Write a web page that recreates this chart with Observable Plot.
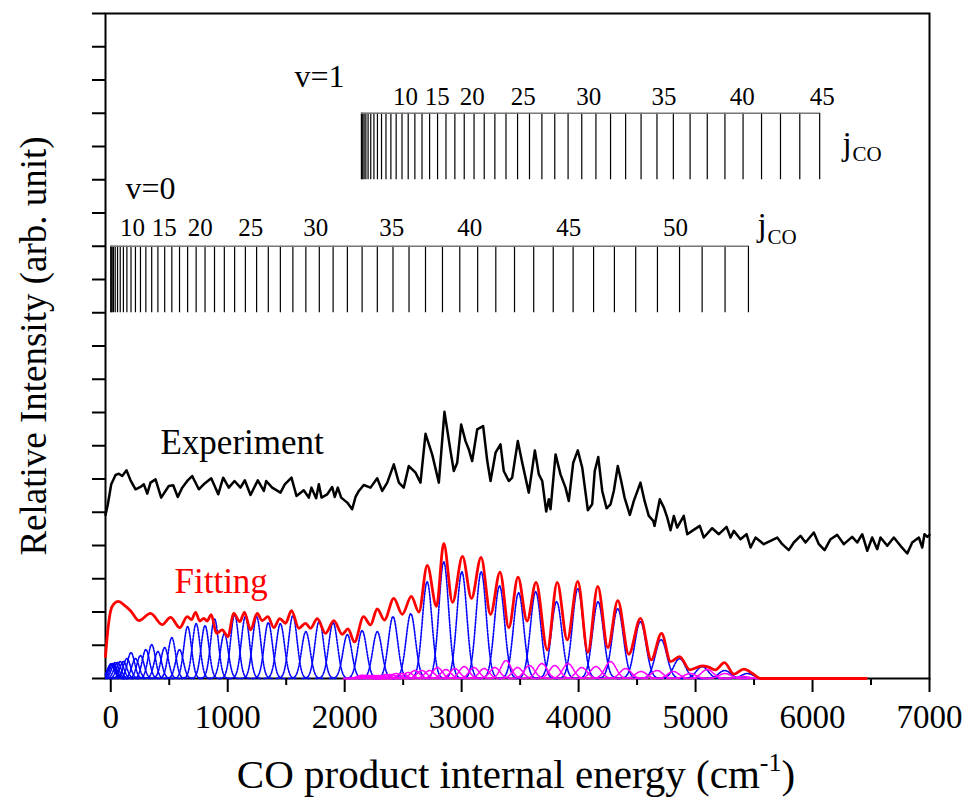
<!DOCTYPE html>
<html><head><meta charset="utf-8">
<script src="https://cdn.jsdelivr.net/npm/d3@7"></script>
<script src="https://cdn.jsdelivr.net/npm/@observablehq/plot@0.6"></script>
<style>
body{margin:0;background:#fff;}
</style></head><body>
<script>
// ---------- data ----------
// x: CO internal energy (cm-1); y: relative intensity (arb. unit, 0..200)
const xTicks = [0,1000,2000,3000,4000,5000,6000,7000];
const xMinorTicks = [500,1500,2500,3500,4500,5500,6500];
const yTicks = [0,10,20,30,40,50,60,70,80,90,100,110,120,130,140,150,160,170,180,190,200];

// rotational level energies, v=0 (j=0..53) and v=1 (j=0..45)
const v0E = [0,4,12,23,38,58,81,108,138,173,211,254,300,350,403,461,522,588,657,730,806,887,971,1059,1151,1247,1347,1450,1557,1668,1783,1901,2023,2149,2279,2413,2550,2691,2836,2984,3137,3292,3452,3616,3783,3953,4128,4306,4488,4674,4863,5056,5252,5452];
const v1E = [2143,2147,2155,2166,2181,2200,2223,2250,2280,2315,2353,2395,2440,2490,2543,2600,2661,2726,2794,2866,2942,3022,3106,3193,3284,3379,3478,3580,3686,3796,3910,4027,4148,4273,4402,4534,4670,4810,4953,5100,5251,5406,5564,5726,5891,6061];

// fitted component peaks
const v0PeakE = [0,4,12,23,38,58,81,108,138,173,211,254,300,350,403,461,522,588,657,730,806,887,971,1059,1151,1247,1347,1450,1557,1668,1783,1901,2023,2149,2279,2413,2565,2705,2847,3002,3167,3324,3487,3633,3812,3993,4166,4335,4528,4705,4863,5057,5249,5443];
const v0Amp = [4.2,4.5,4.5,4.5,4.8,4.8,5.1,5.1,6.0,7.8,6.0,6.9,8.7,10.2,8.1,9.3,12.3,8.7,15.6,16.5,15.9,18.0,13.5,19.2,18.6,18.6,16.8,16.5,18.9,14.1,17.4,16.8,13.2,14.4,14.1,18.6,19.5,29.1,35.1,32.1,32.1,27.9,25.8,26.1,23.1,27.0,23.1,21.0,17.1,11.7,6.0,3.6,2.4,1.5];
const v1Amp = [0.9,0.9,0.9,0.9,0.9,0.9,0.9,0.9,0.9,0.9,1.2,1.2,1.5,1.5,1.8,2.4,2.4,2.4,3.3,2.7,3.0,3.6,3.3,3.0,3.3,5.4,3.3,3.9,4.5,3.9,4.5,3.3,3.6,5.1,3.0,2.1,2.4,2.1,1.5,2.7,1.5,0.6,0,0,0,0];

// total fitting curve
const fitE = [-45,-28,-2,23,66,117,169,240,340,440,511,590,654,690,725,761,795,823,859,904,953,1001,1052,1103,1143,1195,1252,1295,1343,1394,1445,1494,1545,1608,1665,1708,1765,1836,1907,1979,2028,2084,2161,2221,2278,2340,2420,2492,2570,2634,2706,2785,2847,2922,3007,3084,3166,3247,3328,3403,3482,3559,3636,3732,3817,3903,3993,4079,4164,4250,4335,4429,4529,4621,4709,4786,4863,4951,5057,5113,5170,5247,5327,5412,5484,5555,6459];
const fitI = [6.6,13.5,20.2,22.3,23.2,22.0,20.4,17.4,19.6,16.2,18.4,15.3,18.6,17.7,19.9,17.3,18.1,17.3,19.2,13.6,14.6,12.6,19.6,17.1,19.9,14.6,19.6,17.4,18.6,15.3,18.0,16.6,20.4,15.1,16.6,15.1,18.0,13.6,17.4,13.3,14.9,11.0,18.6,16.1,20.9,17.6,24.1,19.3,24.7,20.0,34.0,21.7,40.6,22.9,36.7,24.1,36.4,19.3,32.0,15.3,30.5,17.3,28.9,8.6,28.9,11.6,29.2,7.9,27.7,9.3,23.4,7.3,18.1,5.6,13.6,5.1,6.6,2.6,3.8,3.4,2.6,4.8,1.3,2.8,1.6,0,0];

// experiment
const expE = [-45,-25,4,41,69,98,135,169,212,254,283,312,340,383,431,496,534,573,611,654,696,753,795,859,919,961,1009,1058,1109,1146,1195,1257,1309,1329,1380,1451,1488,1545,1588,1650,1693,1716,1756,1779,1802,1851,1893,1915,1941,1970,2022,2064,2093,2121,2163,2221,2278,2321,2364,2420,2463,2505,2548,2606,2648,2691,2748,2805,2853,2905,2933,2962,2996,3033,3061,3090,3133,3184,3219,3247,3290,3332,3360,3403,3432,3480,3518,3574,3603,3626,3660,3689,3723,3745,3760,3803,3845,3888,3916,3954,3993,4031,4079,4116,4138,4168,4202,4239,4273,4301,4335,4364,4393,4438,4472,4529,4564,4600,4638,4649,4694,4729,4758,4786,4814,4843,4899,4929,4971,5036,5070,5142,5199,5265,5299,5327,5384,5436,5470,5513,5583,5641,5698,5741,5797,5840,5897,5940,6011,6054,6103,6154,6211,6268,6339,6382,6425,6468,6510,6553,6581,6639,6695,6752,6810,6852,6909,6938,6957,6981,7000];
const expI = [49.2,52.4,58.4,61.2,61.6,60.9,62.6,59.6,56.9,57.6,58.4,55.6,58.9,59.9,54.4,57.9,58.1,54.6,57.4,59.4,60.9,56.9,58.4,60.2,55.4,60.4,57.4,59.4,57.4,59.6,55.2,59.6,56.4,59.4,57.4,55.9,58.4,60.4,54.9,56.6,54.4,57.4,54.2,58.4,54.4,55.4,57.6,54.6,57.4,54.4,52.9,50.9,54.6,56.4,58.2,57.4,60.2,56.4,58.9,64.4,58.9,57.4,63.9,61.9,58.9,73.6,67.4,58.9,80.2,68.4,62.4,64.9,76.4,71.4,68.9,65.4,74.9,75.9,65.4,59.4,67.9,70.4,62.4,59.4,60.4,71.4,64.9,55.9,62.9,68.6,61.4,59.4,50.2,53.9,50.9,67.4,61.4,57.4,53.4,64.9,68.6,63.4,50.6,52.4,62.4,66.6,56.4,51.2,52.4,56.4,63.9,59.4,54.4,49.2,53.4,58.9,53.4,48.9,47.4,45.9,53.9,51.4,48.4,44.6,48.9,45.4,48.9,43.4,44.4,45.9,42.4,45.2,43.4,45.6,42.4,44.4,41.9,43.4,39.4,42.4,40.4,41.4,42.4,40.4,38.6,40.9,42.9,40.9,43.9,40.4,38.6,41.9,43.2,40.4,42.6,40.9,43.4,38.4,42.4,38.9,42.4,39.9,42.4,39.9,37.6,40.9,42.4,39.4,43.4,42.6,43.2];

// level labels
const v0LabelText = ["10","15","20","25","30","35","40","45","50"];
const v0LabelE = [186,458,765,1197,1753,2402,3070,3916,4829];
const v1LabelText = ["10","15","20","25","30","35","40","45"];
const v1LabelE = [2520,2791,3090,3526,4087,4729,5399,6083];

// ---------- build tables ----------
const xMin = -45;
function components(centers, amps, v) {
  const out = [];
  centers.forEach((c, j) => {
    const s = 30 + 0.004 * c;
    for (let e = c - 4 * s; e <= c + 4 * s + 1e-6; e += s / 8) {
      if (e < xMin) continue;
      out.push({v, j, E: e, I: amps[j] * Math.exp(-((e - c) ** 2) / (2 * s * s))});
    }
  });
  return out;
}
const blue = components(v0PeakE, v0Amp, 0);
const magenta = components(v1E, v1Amp, 1);
const fit = fitE.map((E, i) => ({E, I: fitI[i]}));
const exp = expE.map((E, i) => ({E, I: expI[i]}));

const serif = "'Liberation Serif','Times New Roman',Times,serif";

const svg = Plot.plot({
  width: 966, height: 804,
  marginLeft: 105, marginRight: 37, marginTop: 13, marginBottom: 126,
  style: {fontFamily: serif, background: "#fff", color: "#000", overflow: "visible"},
  x: {domain: [xMin, 7000]},
  y: {domain: [0, 200]},
  marks: [
    // axes first so data lines sit on top of the baseline
    Plot.axisX({ticks: xTicks, tickSize: 14, tickPadding: 12, fontSize: 33, tickFormat: d => String(d), strokeWidth: 2, label: null}),
    Plot.axisX({ticks: xMinorTicks, tickSize: 7, tickFormat: () => "", strokeWidth: 2, label: null}),
    Plot.axisY({ticks: yTicks, tickSize: 13, tickFormat: () => "", strokeWidth: 2, label: null}),
    Plot.frame({stroke: "#000", strokeWidth: 2}),
    Plot.line(blue, {x: "E", y: "I", z: "j", stroke: "#0000ff", strokeWidth: 1.6, strokeDasharray: "2,1.3"}),
    Plot.line(magenta, {x: "E", y: "I", z: "j", stroke: "#ff00ff", strokeWidth: 1.6, strokeDasharray: "2,1.3"}),
    Plot.line(fit, {x: "E", y: "I", stroke: "#ff0000", strokeWidth: 2.8, curve: "monotone-x"}),
    Plot.line(exp, {x: "E", y: "I", stroke: "#000", strokeWidth: 2.5, strokeLinejoin: "round"}),
    // level diagrams
    Plot.ruleX(v0E, {x: d => d, y1: 110, y2: 130, stroke: "#000", strokeWidth: 1.2}),
    Plot.ruleX(v1E, {x: d => d, y1: 150, y2: 170, stroke: "#000", strokeWidth: 1.2}),
    Plot.ruleY([130], {x1: v0E[0], x2: v0E[v0E.length - 1], stroke: "#777", strokeWidth: 1.6}),
    Plot.ruleY([170], {x1: v1E[0], x2: v1E[v1E.length - 1], stroke: "#777", strokeWidth: 1.6}),
    Plot.text(v0LabelText, {x: (d, i) => v0LabelE[i], y: 133, text: d => d, fontSize: 25, lineAnchor: "bottom"}),
    Plot.text(v1LabelText, {x: (d, i) => v1LabelE[i], y: 172.6, text: d => d, fontSize: 25, lineAnchor: "bottom"}),
    Plot.text(["j"], {x: 5530, y: 133, text: d => d, fontSize: 33, textAnchor: "start", lineAnchor: "bottom"}),
    Plot.text(["CO"], {x: 5530, y: 133, dx: 10, dy: 8, text: d => d, fontSize: 21, textAnchor: "start", lineAnchor: "bottom"}),
    Plot.text(["j"], {x: 6256, y: 157.5, text: d => d, fontSize: 33, textAnchor: "start", lineAnchor: "bottom"}),
    Plot.text(["CO"], {x: 6256, y: 157.5, dx: 10, dy: 6, text: d => d, fontSize: 21, textAnchor: "start", lineAnchor: "bottom"}),
    Plot.text(["v=0"], {x: 126, y: 144.3, text: d => d, fontSize: 32, textAnchor: "start", lineAnchor: "bottom"}),
    Plot.text(["v=1"], {x: 1571, y: 177.9, text: d => d, fontSize: 32, textAnchor: "start", lineAnchor: "bottom"}),
    Plot.text(["Experiment"], {x: 425, y: 67.4, text: d => d, fontSize: 35, textAnchor: "start", lineAnchor: "bottom"}),
    Plot.text(["Fitting"], {x: 545, y: 25.6, text: d => d, fontSize: 35, fill: "#ff0000", textAnchor: "start", lineAnchor: "bottom"})
  ]
});

// axis titles
const s = d3.select(svg);
const xt = s.append("text").attr("x", 516).attr("y", 788).attr("text-anchor", "middle")
  .attr("font-family", serif).attr("font-size", 41).attr("fill", "#000");
xt.append("tspan").text("CO product internal energy (cm");
xt.append("tspan").attr("font-size", 26).attr("dy", -17).text("-1");
xt.append("tspan").attr("dy", 17).text(")");
s.append("text").attr("transform", "translate(46,346) rotate(-90)").attr("text-anchor", "middle")
  .attr("font-family", serif).attr("font-size", 37).attr("fill", "#000")
  .text("Relative Intensity (arb. unit)");

document.body.appendChild(svg);
</script>
</body></html>
